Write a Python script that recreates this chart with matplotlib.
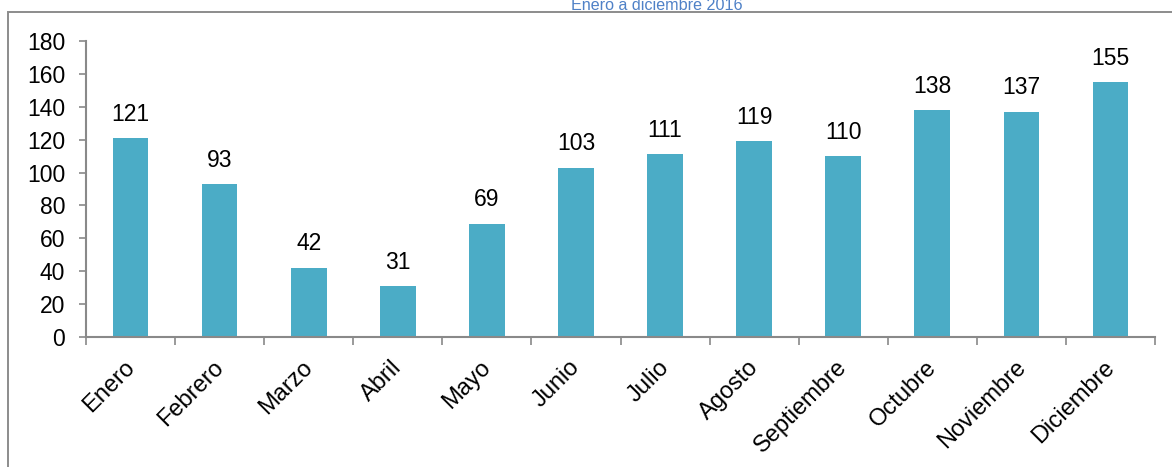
import matplotlib
matplotlib.use("Agg")
from matplotlib import pyplot as plt
from matplotlib.patches import Rectangle
from matplotlib.transforms import ScaledTranslation

meses = ["Enero", "Febrero", "Marzo", "Abril", "Mayo", "Junio", "Julio",
         "Agosto", "Septiembre", "Octubre", "Noviembre", "Diciembre"]
valores = [121, 93, 42, 31, 69, 103, 111, 119, 110, 138, 137, 155]
y_ticks = [0, 20, 40, 60, 80, 100, 120, 140, 160, 180]

titulo = "Enero a diciembre 2016"

bar_color = "#4bacc6"
axis_color = "#898989"

plt.rcParams["font.family"] = ["Liberation Sans", "DejaVu Sans"]

W, H = 1172, 467
fig = plt.figure(figsize=(W / 100, H / 100), dpi=100)
ax = fig.add_axes([86 / W, 1 - 337 / H, (1155 - 86) / W, (337 - 41) / H])

x = list(range(len(meses)))
ax.bar(x, valores, width=0.4, color=bar_color, zorder=2)
for xi, v in zip(x, valores):
    ax.annotate(str(v), (xi, v), xytext=(0, 9), textcoords="offset points",
                ha="center", va="bottom", fontsize=16.5)

ax.set_xlim(-0.5, len(meses) - 0.5)
ax.set_ylim(0, 180)
ax.set_yticks(y_ticks)
ax.tick_params(axis="y", labelsize=16.5, length=5, width=1.2, color=axis_color, pad=10)

# ticks between categories, labels at category centers
ax.set_xticks([i - 0.5 for i in range(len(meses) + 1)])
ax.set_xticklabels([])
ax.set_xticks(x, minor=True)
ax.set_xticklabels(meses, minor=True, rotation=45, ha="right",
                   rotation_mode="anchor", fontsize=17)
ax.tick_params(axis="x", which="major", length=6, width=1.2, color=axis_color)
ax.tick_params(axis="x", which="minor", length=0, pad=14)
shift = ScaledTranslation(-7 / 100, 0, fig.dpi_scale_trans)
for lbl in ax.get_xticklabels(minor=True):
    lbl.set_transform(lbl.get_transform() + shift)

for s in ["top", "right"]:
    ax.spines[s].set_visible(False)
for s in ["left", "bottom"]:
    ax.spines[s].set_color(axis_color)
    ax.spines[s].set_linewidth(1.5)

# outer chart border (cut by the image edges)
fig.patches.append(Rectangle((8 / W, -0.2), 1.2, 1.2 - 12 / H,
                             transform=fig.transFigure, fill=False,
                             edgecolor="#8c8c8c", linewidth=1.4))

fig.text(657 / W, 1 - 10 / H, titulo, ha="center", va="baseline",
         fontsize=11.6, color="#4f81c7")

fig.savefig("out.png", dpi=100)
